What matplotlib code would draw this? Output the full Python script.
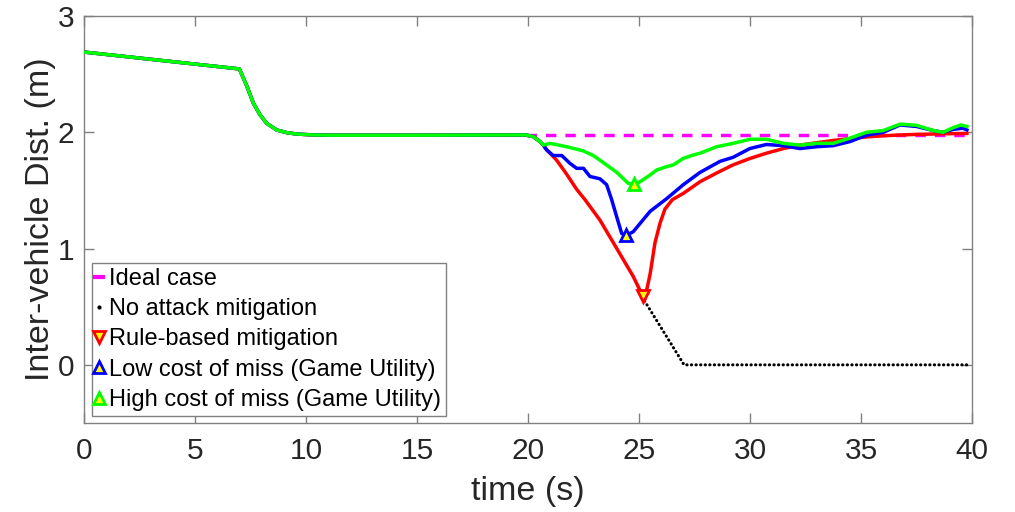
import matplotlib
matplotlib.use("Agg")
import matplotlib.pyplot as plt
from matplotlib.lines import Line2D

# ---- data ----
prefix_t = [0, 7.0, 7.33, 7.63, 7.93, 8.23, 8.68, 9.13, 9.58, 10.33, 11.08, 15.0, 19.9, 20.24, 20.54, 20.69]
prefix_y = [2.69, 2.545, 2.40, 2.25, 2.15, 2.077, 2.02, 1.997, 1.985, 1.977, 1.975, 1.975, 1.977, 1.962, 1.92, 1.89]

red_t = [20.84, 21.29, 21.74, 22.19, 22.57, 23.24, 24.0, 24.74, 25.25, 25.5, 25.72, 25.95, 26.17, 26.5,
         27.0, 27.75, 28.5, 29.24, 30.0, 30.74, 31.5, 32.25, 33.0, 33.75, 34.5, 35.25, 36.0, 36.76,
         37.5, 38.26, 39.0, 39.77]
red_y = [1.85, 1.76, 1.64, 1.51, 1.42, 1.245, 1.0, 0.76, 0.56, 0.78, 1.05, 1.22, 1.34, 1.42,
         1.475, 1.575, 1.65, 1.72, 1.775, 1.82, 1.86, 1.89, 1.91, 1.93, 1.945, 1.96, 1.97, 1.977,
         1.982, 1.985, 1.988, 1.99]

blue_t = [20.84, 21.14, 21.52, 21.89, 22.19, 22.5, 22.79, 23.24, 23.54, 23.77, 24.0, 24.22, 24.4, 24.74,
          25.5, 26.25, 27.0, 27.75, 28.65, 29.24, 29.99, 30.74, 31.5, 32.25, 33.0, 33.75, 34.5, 35.25,
          36.0, 36.76, 37.5, 38.26, 38.7, 39.15, 39.6, 39.77]
blue_y = [1.848, 1.80, 1.80, 1.733, 1.69, 1.69, 1.62, 1.60, 1.55, 1.42, 1.27, 1.13, 1.11, 1.145,
          1.32, 1.43, 1.55, 1.655, 1.75, 1.785, 1.86, 1.895, 1.885, 1.86, 1.876, 1.885, 1.92, 1.975,
          2.0, 2.063, 2.05, 2.015, 2.0, 2.025, 2.035, 2.02]

green_t = [20.99, 21.74, 22.49, 22.94, 23.24, 24.0, 24.52, 24.79, 25.05, 25.5, 25.8, 26.25, 26.55, 27.0,
           27.45, 27.75, 28.5, 29.24, 30.0, 30.74, 31.5, 32.25, 33.0, 33.75, 34.5, 35.25, 36.0, 36.76,
           37.5, 38.26, 38.7, 39.15, 39.5, 39.77]
green_y = [1.905, 1.876, 1.84, 1.80, 1.76, 1.655, 1.56, 1.55, 1.575, 1.633, 1.676, 1.705, 1.72, 1.776,
           1.805, 1.82, 1.876, 1.905, 1.94, 1.94, 1.905, 1.89, 1.905, 1.905, 1.95, 2.0, 2.015, 2.07,
           2.06, 2.015, 2.0, 2.04, 2.063, 2.05]

noatk_t = [25.25, 27.03, 39.8]
noatk_y = [0.55, 0.0, 0.0]

ideal_t = [19.9, 39.8]
ideal_y = [1.975, 1.975]

marker_red = (25.2, 0.59)
marker_blue = (24.4, 1.12)
marker_green = (24.78, 1.555)

labels = ["Ideal case", "No attack mitigation", "Rule-based mitigation",
          "Low cost of miss (Game Utility)", "High cost of miss (Game Utility)"]

# ---- figure ----
plt.rcParams['font.family'] = ['Liberation Sans', 'DejaVu Sans']
fig = plt.figure(figsize=(10.15, 5.12), dpi=100)
ax = fig.add_axes([84 / 1015, 1 - 423 / 512, 888 / 1015, 407 / 512])

lw = 2.5
ax.plot(ideal_t, ideal_y, color='#ff00ff', lw=lw, linestyle=(0, (3, 2.6)), zorder=2)
ax.plot(noatk_t, noatk_y, color='black', lw=2.2, linestyle=(0, (0.1, 1.4)),
        dash_capstyle='round', zorder=3)
ax.plot(prefix_t + red_t, prefix_y + red_y, color='#ff0000', lw=lw, zorder=4)
ax.plot(prefix_t + blue_t, prefix_y + blue_y, color='#0000ff', lw=lw, zorder=5)
ax.plot(prefix_t + green_t, prefix_y + green_y, color='#00ff00', lw=lw, zorder=6)

ms, mew = 9, 2
ax.plot(*marker_red, marker='v', ms=ms, mew=mew, mec='#ff0000', mfc='#ffff00', zorder=7)
ax.plot(*marker_blue, marker='^', ms=ms, mew=mew, mec='#0000ff', mfc='#ffff00', zorder=7)
ax.plot(*marker_green, marker='^', ms=ms, mew=mew, mec='#00ff00', mfc='#ffff00', zorder=7)

ax.set_xlim(0, 40)
ax.set_ylim(-0.5, 3)
ax.set_xticks([0, 5, 10, 15, 20, 25, 30, 35, 40])
ax.set_yticks([0, 1, 2, 3])

spine_c = '#808080'
for s in ax.spines.values():
    s.set_color(spine_c)
    s.set_linewidth(1.0)
ax.tick_params(direction='in', length=7, width=1.0, color=spine_c, labelcolor='#262626',
               labelsize=21.5, top=True, right=True)
ax.tick_params(axis='x', pad=10)
ax.tick_params(axis='y', pad=7)

ax.set_xlabel('time (s)', fontsize=24.5, color='#262626', labelpad=8)
ax.set_ylabel('Inter-vehicle Dist. (m)', fontsize=24.5, color='#262626', labelpad=1)

handles = [
    Line2D([], [], color='#ff00ff', marker='_', ms=9, mew=3, linestyle='None'),
    Line2D([], [], color='black', marker='.', ms=4, linestyle='None'),
    Line2D([], [], marker='v', ms=ms, mew=mew, mec='#ff0000', mfc='#ffff00', linestyle='None'),
    Line2D([], [], marker='^', ms=ms, mew=mew, mec='#0000ff', mfc='#ffff00', linestyle='None'),
    Line2D([], [], marker='^', ms=ms, mew=mew, mec='#00ff00', mfc='#ffff00', linestyle='None'),
]
leg = ax.legend(handles, labels, loc='lower left', bbox_to_anchor=(0.0087, 0.018),
                borderaxespad=0, fontsize=17, handlelength=0.2, handletextpad=0.35,
                borderpad=0.2, labelspacing=0.35, fancybox=False, framealpha=1,
                edgecolor=spine_c)
leg.get_frame().set_linewidth(1.0)

fig.savefig('out.png', dpi=100)
